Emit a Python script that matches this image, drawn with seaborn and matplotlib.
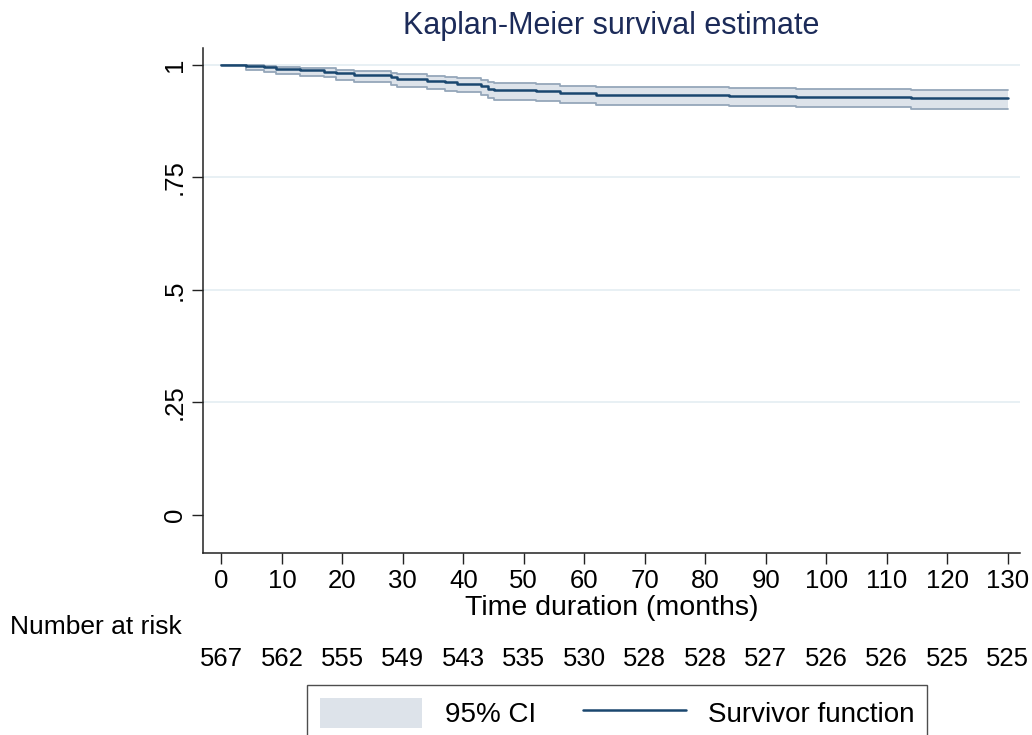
import pandas as pd
import matplotlib.pyplot as plt
import seaborn as sns
from matplotlib.patches import Patch
from matplotlib.lines import Line2D

# step times (months) and KM estimate with 95% CI
times = [0, 4, 7, 9, 13, 17, 19, 22, 28, 29, 34, 37, 39, 43, 44, 45, 52, 56, 62, 84, 95, 114, 130]
surv = [1.0, 0.998, 0.995, 0.991, 0.988, 0.985, 0.981, 0.977, 0.972, 0.968, 0.964, 0.961,
        0.958, 0.952, 0.947, 0.944, 0.941, 0.937, 0.933, 0.931, 0.929, 0.927, 0.927]
ci_low = [1.0, 0.988, 0.985, 0.980, 0.976, 0.972, 0.967, 0.962, 0.956, 0.951, 0.946, 0.943,
          0.939, 0.932, 0.926, 0.923, 0.919, 0.915, 0.910, 0.908, 0.906, 0.903, 0.903]
ci_high = [1.0, 1.0, 0.998, 0.996, 0.994, 0.992, 0.989, 0.986, 0.982, 0.979, 0.976, 0.974,
           0.971, 0.966, 0.962, 0.960, 0.957, 0.954, 0.951, 0.949, 0.947, 0.945, 0.945]

risk_times = [0, 10, 20, 30, 40, 50, 60, 70, 80, 90, 100, 110, 120, 130]
at_risk = [567, 562, 555, 549, 543, 535, 530, 528, 528, 527, 526, 526, 525, 525]

yticks = [0, 0.25, 0.5, 0.75, 1]
ytick_labels = ['0', '.25', '.5', '.75', '1']

km = pd.DataFrame({'time': times, 'surv': surv, 'lo': ci_low, 'hi': ci_high})

sns.set_theme(style='white')
plt.rcParams['font.family'] = ['Liberation Sans', 'DejaVu Sans']
plt.rcParams['text.color'] = 'black'
plt.rcParams['axes.labelcolor'] = 'black'
plt.rcParams['xtick.color'] = 'black'
plt.rcParams['ytick.color'] = 'black'

navy = '#1a476f'
band = '#dde3ea'
band_edge = '#95a7ba'

fig = plt.figure(figsize=(10.32, 7.35), dpi=100)
ax = fig.add_axes([0.197, 0.248, 0.791, 0.687])

ax.fill_between(km['time'], km['lo'], km['hi'], step='post', color=band, lw=0)
ax.step(km['time'], km['lo'], where='post', color=band_edge, lw=1.3)
ax.step(km['time'], km['hi'], where='post', color=band_edge, lw=1.3)
sns.lineplot(data=km, x='time', y='surv', drawstyle='steps-post', color=navy,
             lw=1.8, estimator=None, ax=ax)

ax.set_xlim(-3, 132)
ax.set_ylim(-0.084, 1.038)
ax.set_xticks(risk_times)
ax.set_yticks(yticks)
ax.set_yticklabels(ytick_labels, rotation=90, va='center')
for y in yticks[1:]:
    ax.axhline(y, color='#e4eef2', lw=1.2, zorder=0)

for s in ['top', 'right']:
    ax.spines[s].set_visible(False)
for s in ['left', 'bottom']:
    ax.spines[s].set_color('#222222')
    ax.spines[s].set_linewidth(1.1)
ax.tick_params(axis='both', which='major', direction='out', length=8, width=1,
               color='#222222', labelsize=18.5, pad=4, left=True, bottom=True)

ax.set_xlabel('Time duration (months)', fontsize=20.5, labelpad=1)
ax.set_ylabel('')
ax.set_title('Kaplan-Meier survival estimate', fontsize=22, color='#1c2b59', pad=10)

# number at risk table
fig.text(10 / 1032, 1 - 627 / 735, 'Number at risk', fontsize=19, ha='left', va='center')
for t, n in zip(risk_times, at_risk):
    ax.text(t, -0.21, str(n), transform=ax.get_xaxis_transform(), fontsize=18.5,
            ha='center', va='center')

handles = [Patch(facecolor=band, edgecolor='none'),
           Line2D([0], [0], color=navy, lw=1.8)]
leg = fig.legend(handles, ['95% CI', 'Survivor function'], loc='upper center',
                 bbox_to_anchor=(617 / 1032, 1 - 685 / 735), ncol=2, fontsize=20,
                 frameon=True, fancybox=False, edgecolor='#222222', handlelength=3.7,
                 handleheight=1.3, handletextpad=0.8, columnspacing=1.7, borderpad=0.45,
                 borderaxespad=0)
leg.get_frame().set_linewidth(1.0)

fig.savefig('out.png', dpi=100)
